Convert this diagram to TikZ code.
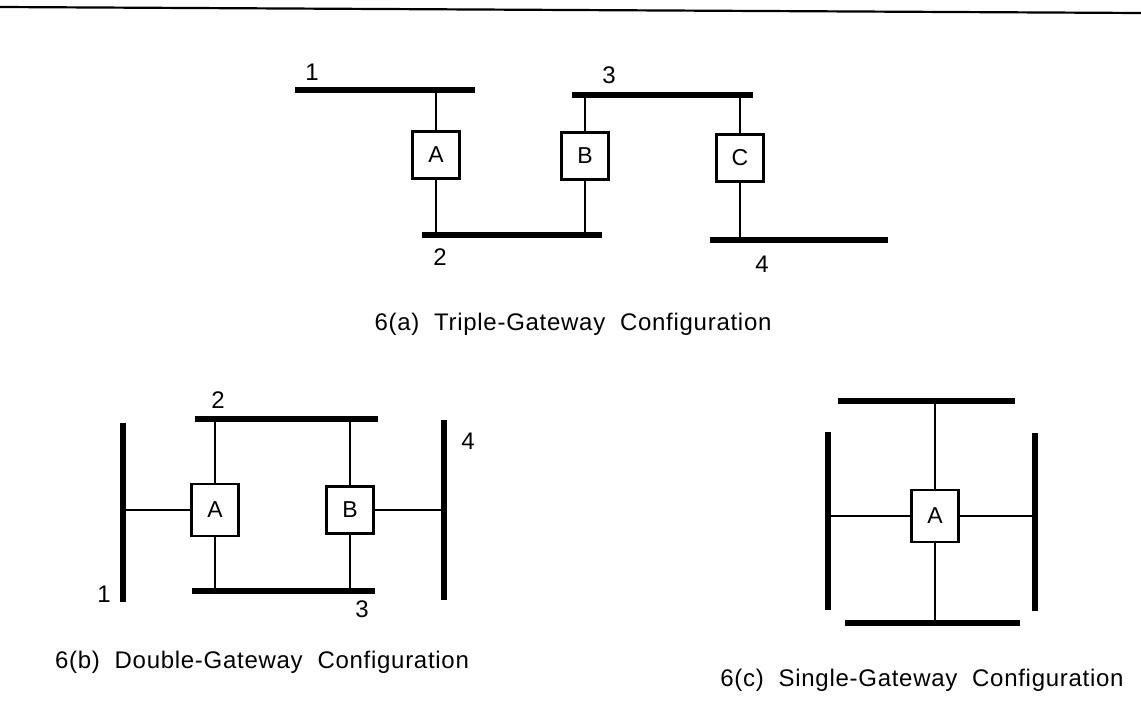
\documentclass[tikz,border=0pt]{standalone}
\usepackage{fontspec}
\setmainfont{Liberation Sans}
\usetikzlibrary{positioning}
\tikzset{
  bus/.style={line width=5.5pt},
  link/.style={line width=2.2pt},
  gw/.style={draw,line width=2.6pt,minimum width=47pt,minimum height=47pt,inner sep=0pt,font=\fontsize{23}{26}\selectfont},
  lbl/.style={font=\fontsize{24}{28}\selectfont,inner sep=0pt},
  figcap/.style={font=\fontsize{24}{28}\selectfont\addfontfeature{LetterSpace=3},inner sep=0pt},
  rule/.style={line width=2.2pt},
}

\begin{document}
\begin{tikzpicture}[x=1pt,y=-1pt]
  \useasboundingbox (0,0) rectangle (1141,701);
  \draw[rule] (0,7) -- (1141,13);
  % 6(a): three gateways in a chain
  \coordinate (a1w) at (295,90);  \coordinate (a1e) at (475,90);
  \coordinate (a2w) at (422,235); \coordinate (a2e) at (602,235);
  \coordinate (a3w) at (572,95);  \coordinate (a3e) at (753,95);
  \coordinate (a4w) at (710,240); \coordinate (a4e) at (888,240);
  \draw[bus] (a1w) -- (a1e);
  \draw[bus] (a2w) -- (a2e);
  \draw[bus] (a3w) -- (a3e);
  \draw[bus] (a4w) -- (a4e);
  \node[gw] (aA) at (436,155) {A};
  \node[gw] (aB) at (585,156) {B};
  \node[gw] (aC) at (740,158) {C};
  \draw[link] (aA) -- (aA |- a1w);
  \draw[link] (aA) -- (aA |- a2w);
  \draw[link] (aB) -- (aB |- a3w);
  \draw[link] (aB) -- (aB |- a2w);
  \draw[link] (aC) -- (aC |- a3w);
  \draw[link] (aC) -- (aC |- a4w);
  \node[lbl] (la1) at (312,72) {1};
  \node[lbl] (la2) at (440,257) {2};
  \node[lbl] (la3) at (609,75) {3};
  \node[lbl] (la4) at (762,264) {4};
  \node[figcap] (capa) at (573,324) {6(a)\ \ Triple-Gateway\ \ Configuration};
  % 6(b): two gateways between four nets
  \coordinate (b1n) at (123,423); \coordinate (b1s) at (123,602);
  \coordinate (b2w) at (195,419); \coordinate (b2e) at (378,419);
  \coordinate (b3w) at (192,591); \coordinate (b3e) at (375,591);
  \coordinate (b4n) at (444,420); \coordinate (b4s) at (444,600);
  \draw[bus] (b1n) -- (b1s);
  \draw[bus] (b2w) -- (b2e);
  \draw[bus] (b3w) -- (b3e);
  \draw[bus] (b4n) -- (b4s);
  \node[gw,minimum height=52pt] (bA) at (215,510) {A};
  \node[gw] (bB) at (350,510) {B};
  \draw[link] (bA) -- (bA |- b2w);
  \draw[link] (bA) -- (bA |- b3w);
  \draw[link] (bA) -- (bA -| b1n);
  \draw[link] (bB) -- (bB |- b2w);
  \draw[link] (bB) -- (bB |- b3w);
  \draw[link] (bB) -- (bB -| b4n);
  \node[lbl] (lb1) at (104,594) {1};
  \node[lbl] (lb2) at (218,400) {2};
  \node[lbl] (lb3) at (362,609) {3};
  \node[lbl] (lb4) at (468,441) {4};
  \node[figcap] (capb) at (262,662) {6(b)\ \ Double-Gateway\ \ Configuration};
  % 6(c): one gateway, four nets
  \coordinate (cTw) at (838,401); \coordinate (cTe) at (1015,401);
  \coordinate (cBw) at (845,623); \coordinate (cBe) at (1020,623);
  \coordinate (cLn) at (828,432); \coordinate (cLs) at (828,610);
  \coordinate (cRn) at (1035,433); \coordinate (cRs) at (1035,611);
  \draw[bus] (cTw) -- (cTe);
  \draw[bus] (cBw) -- (cBe);
  \draw[bus] (cLn) -- (cLs);
  \draw[bus] (cRn) -- (cRs);
  \node[gw,minimum height=52pt] (cA) at (935,516) {A};
  \draw[link] (cA) -- (cA |- cTw);
  \draw[link] (cA) -- (cA |- cBw);
  \draw[link] (cA) -- (cA -| cLn);
  \draw[link] (cA) -- (cA -| cRn);
  \node[figcap] (capc) at (922,680) {6(c)\ \ Single-Gateway\ \ Configuration};
\end{tikzpicture}
\end{document}
